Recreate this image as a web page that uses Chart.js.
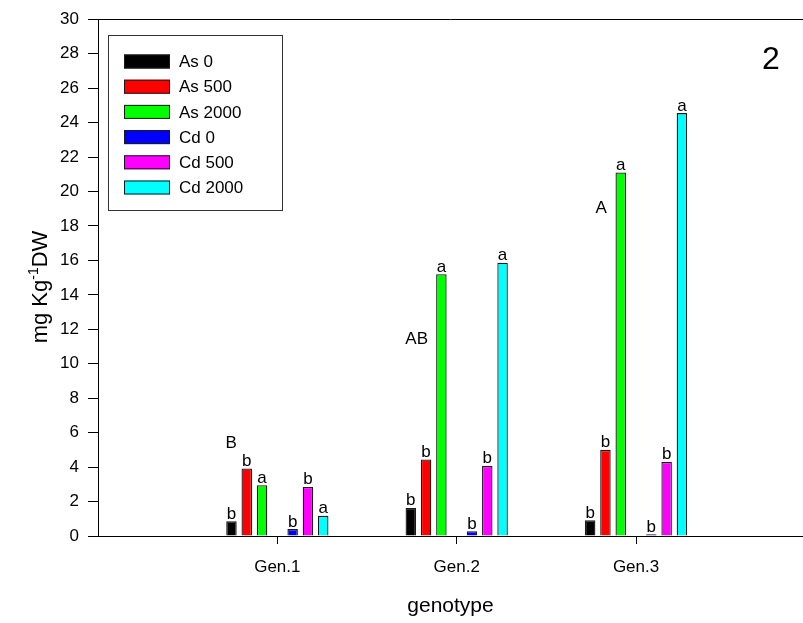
<!DOCTYPE html>
<html>
<head>
<meta charset="utf-8">
<script src="https://cdn.jsdelivr.net/npm/chart.js@4.4.1/dist/chart.umd.min.js"></script>
<style>
  html, body { margin: 0; padding: 0; background: #fff; }
  #wrap { width: 803px; height: 623px; }
</style>
</head>
<body>
<div id="wrap"><canvas id="metalChart" width="803" height="623"></canvas></div>
<script>
// data
const categories = ['Gen.1', 'Gen.2', 'Gen.3'];
const seriesNames = ['As 0', 'As 500', 'As 2000', 'Cd 0', 'Cd 500', 'Cd 2000'];
const as0 = [0.85, 1.63, 0.92];
const as500 = [3.92, 4.44, 5.0];
const as2000 = [2.95, 15.2, 21.1];
const cd0 = [0.4, 0.28, 0.1];
const cd500 = [2.85, 4.07, 4.3];
const cd2000 = [1.17, 15.86, 24.55];
const seriesValues = [as0, as500, as2000, cd0, cd500, cd2000];

// significance letters over each bar
const seriesLetters = [
    ['b', 'b', 'b'],
    ['b', 'b', 'b'],
    ['a', 'a', 'a'],
    ['b', 'b', 'b'],
    ['b', 'b', 'b'],
    ['a', 'a', 'a']
];
// group letters (placed in data units)
const groupLetters = ['B', 'AB', 'A'];
const groupLetterX = [0.743, 1.777, 2.806];
const groupLetterY = [5.4, 11.4, 19.0];

const yTicksMin = 0;
const yTicksMax = 30;
const yTicksStep = 2;
const panelLabel = '2';

const colors = ['#000000', '#ff0000', '#00ff00', '#0000ff', '#ff00ff', '#00ffff'];
const FONT = '"Liberation Sans", Arial, sans-serif';

const positions = categories.map((c, i) => i + 1);

// empty slot between the As and Cd bars
const datasets = [];
seriesNames.forEach((name, i) => {
    if (i === 3) {
        datasets.push({ label: '', data: categories.map(() => null), gap: true });
    }
    datasets.push({
        label: name,
        data: seriesValues[i],
        backgroundColor: colors[i],
        borderColor: '#1a1a1a',
        borderWidth: 1.3,
        letters: seriesLetters[i]
    });
});

const extras = {
    id: 'extras',
    afterDraw(chart) {
        const ctx = chart.ctx;
        const area = chart.chartArea;
        const xs = chart.scales.x;
        const ys = chart.scales.y;
        ctx.save();

        // top frame line
        ctx.strokeStyle = '#000';
        ctx.lineWidth = 1;
        ctx.beginPath();
        ctx.moveTo(area.left, Math.round(area.top) + 0.5);
        ctx.lineTo(area.right, Math.round(area.top) + 0.5);
        ctx.stroke();

        // letters above bars
        ctx.fillStyle = '#000';
        ctx.font = '17px ' + FONT;
        ctx.textAlign = 'center';
        ctx.textBaseline = 'alphabetic';
        chart.data.datasets.forEach((ds, di) => {
            if (ds.gap) return;
            const meta = chart.getDatasetMeta(di);
            meta.data.forEach((bar, j) => {
                ctx.fillText(ds.letters[j], bar.x, bar.y - 2.5);
            });
        });

        // group letters
        ctx.font = '17px ' + FONT;
        ctx.textBaseline = 'middle';
        groupLetters.forEach((t, i) => {
            ctx.fillText(t, xs.getPixelForValue(groupLetterX[i]), ys.getPixelForValue(groupLetterY[i]));
        });

        // legend box
        ctx.strokeStyle = '#333';
        ctx.lineWidth = 1;
        ctx.strokeRect(108.5, 35.5, 174, 175);
        ctx.font = '17px ' + FONT;
        ctx.textAlign = 'left';
        ctx.textBaseline = 'middle';
        seriesNames.forEach((name, i) => {
            const cy = 61.5 + i * 25.2;
            ctx.fillStyle = colors[i];
            ctx.fillRect(124, cy - 7, 46, 14);
            ctx.strokeStyle = '#1a1a1a';
            ctx.strokeRect(124.5, cy - 6.5, 45, 13);
            ctx.fillStyle = '#000';
            ctx.fillText(name, 179, cy + 1);
        });

        // panel number
        ctx.font = '32px ' + FONT;
        ctx.textAlign = 'center';
        ctx.fillText(panelLabel, 771, 60);

        // y title with superscript
        ctx.translate(47, 287);
        ctx.rotate(-Math.PI / 2);
        ctx.textAlign = 'left';
        ctx.textBaseline = 'alphabetic';
        const big = '22px ' + FONT;
        const small = '14px ' + FONT;
        ctx.font = big;
        const w1 = ctx.measureText('mg Kg').width;
        const w3 = ctx.measureText('DW').width;
        ctx.font = small;
        const w2 = ctx.measureText('-1').width;
        let x = -(w1 + w2 + w3) / 2;
        ctx.font = big;
        ctx.fillText('mg Kg', x, 0);
        x += w1;
        ctx.font = small;
        ctx.fillText('-1', x, -9);
        x += w2;
        ctx.font = big;
        ctx.fillText('DW', x, 0);

        ctx.restore();
    }
};

const ctx = document.getElementById('metalChart').getContext('2d');

const metalChart = new Chart(ctx, {
    type: 'bar',
    data: {
        labels: positions,
        datasets: datasets
    },
    plugins: [extras],
    options: {
        responsive: false,
        animation: false,
        categoryPercentage: 0.597,
        barPercentage: 0.686,
        layout: { padding: { top: 18, left: 0, right: 0, bottom: 0 } },
        plugins: {
            legend: { display: false },
            tooltip: { enabled: false }
        },
        scales: {
            x: {
                type: 'linear',
                min: 0,
                max: 3.931,
                offset: false,
                grid: {
                    offset: false,
                    drawOnChartArea: false,
                    drawTicks: true,
                    tickLength: 8,
                    color: '#000'
                },
                border: { display: true, color: '#000', width: 1 },
                afterBuildTicks(scale) {
                    scale.ticks = positions.map(v => ({ value: v }));
                },
                afterFit(scale) {
                    scale.height = 87;
                },
                ticks: {
                    color: '#000',
                    font: { family: FONT, size: 17 },
                    padding: 13,
                    maxRotation: 0,
                    autoSkip: false,
                    callback: (value) => categories[value - 1]
                },
                title: {
                    display: true,
                    text: 'genotype',
                    color: '#000',
                    font: { family: FONT, size: 21 },
                    padding: { top: 14 }
                }
            },
            y: {
                min: yTicksMin,
                max: yTicksMax,
                grid: {
                    drawOnChartArea: false,
                    drawTicks: true,
                    tickLength: 10,
                    color: '#000'
                },
                border: { display: true, color: '#000', width: 1 },
                afterFit(scale) {
                    scale.width = 98;
                },
                ticks: {
                    stepSize: yTicksStep,
                    color: '#000',
                    font: { family: FONT, size: 17 },
                    padding: 9
                }
            }
        }
    }
});
</script>
</body>
</html>
